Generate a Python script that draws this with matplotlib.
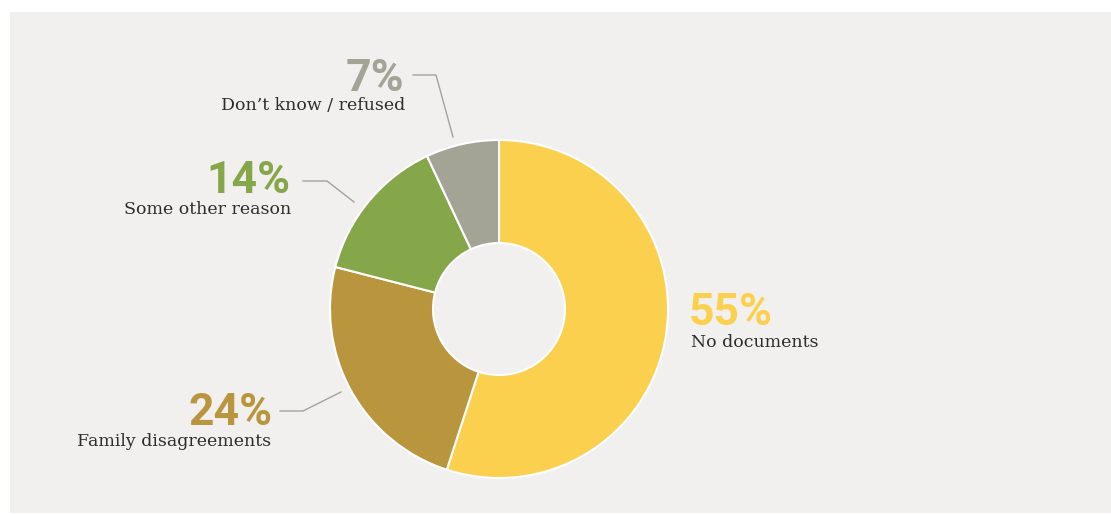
import matplotlib
matplotlib.use("Agg")
import matplotlib.pyplot as plt
from matplotlib.patches import Rectangle

# Reasons given (share of respondents, %)
categories = ["No documents", "Family disagreements", "Some other reason", "Don\u2019t know / refused"]
shares = [55, 24, 14, 7]
colors = ["#fcd04f", "#b9963e", "#85a74a", "#a3a396"]
pct_labels = [f"{v}%" for v in shares]

W, H = 1111, 514
fig = plt.figure(figsize=(W / 100, H / 100), dpi=100, facecolor="white")

ax = fig.add_axes([0, 0, 1, 1])
ax.patch.set_alpha(0)

# light panel behind the chart
ax.add_patch(Rectangle((10, 1), W - 10, H - 13, facecolor="#f1f0ee",
                       edgecolor="none", zorder=-5))

cx, cy = 499, H - 309
r_out, r_in = 169, 66
ax.pie(shares, colors=colors, startangle=90, counterclock=False,
       center=(cx, cy), radius=r_out,
       wedgeprops=dict(width=r_out - r_in, edgecolor="white", linewidth=1.5))
ax.set_xlim(0, W)
ax.set_ylim(0, H)
ax.set_aspect("equal")
ax.axis("off")

pct_font = dict(family="Roboto", weight="bold", fontsize=32)
lab_font = dict(family="DejaVu Serif", fontsize=12.5, color="#2d2d2d")
line_kw = dict(color="#a3a39a", lw=1.0)

def Y(y):
    return H - y

# label placement: (percent x, percent baseline, label x, label baseline, ha)
placements = [
    (689, 325, 691, 347, "left"),
    (273, 425, 271, 446, "right"),
    (290, 193, 291, 214, "right"),
    (404, 91, 405, 110, "right"),
]
for pct, cat, col, (px, py, lx, ly, ha) in zip(pct_labels, categories, colors, placements):
    ax.text(px, Y(py), pct, color=col, ha=ha, va="baseline", **pct_font)
    ax.text(lx, Y(ly), cat, ha=ha, va="baseline", **lab_font)

# leader lines
leaders = [
    [(280, 411), (303, 411), (341, 392)],
    [(303, 181), (327, 181), (354, 202)],
    [(413, 75), (436, 75), (453, 137)],
]
for pts in leaders:
    ax.plot([p[0] for p in pts], [Y(p[1]) for p in pts], **line_kw)

fig.savefig("out.png", dpi=100, facecolor="white")
